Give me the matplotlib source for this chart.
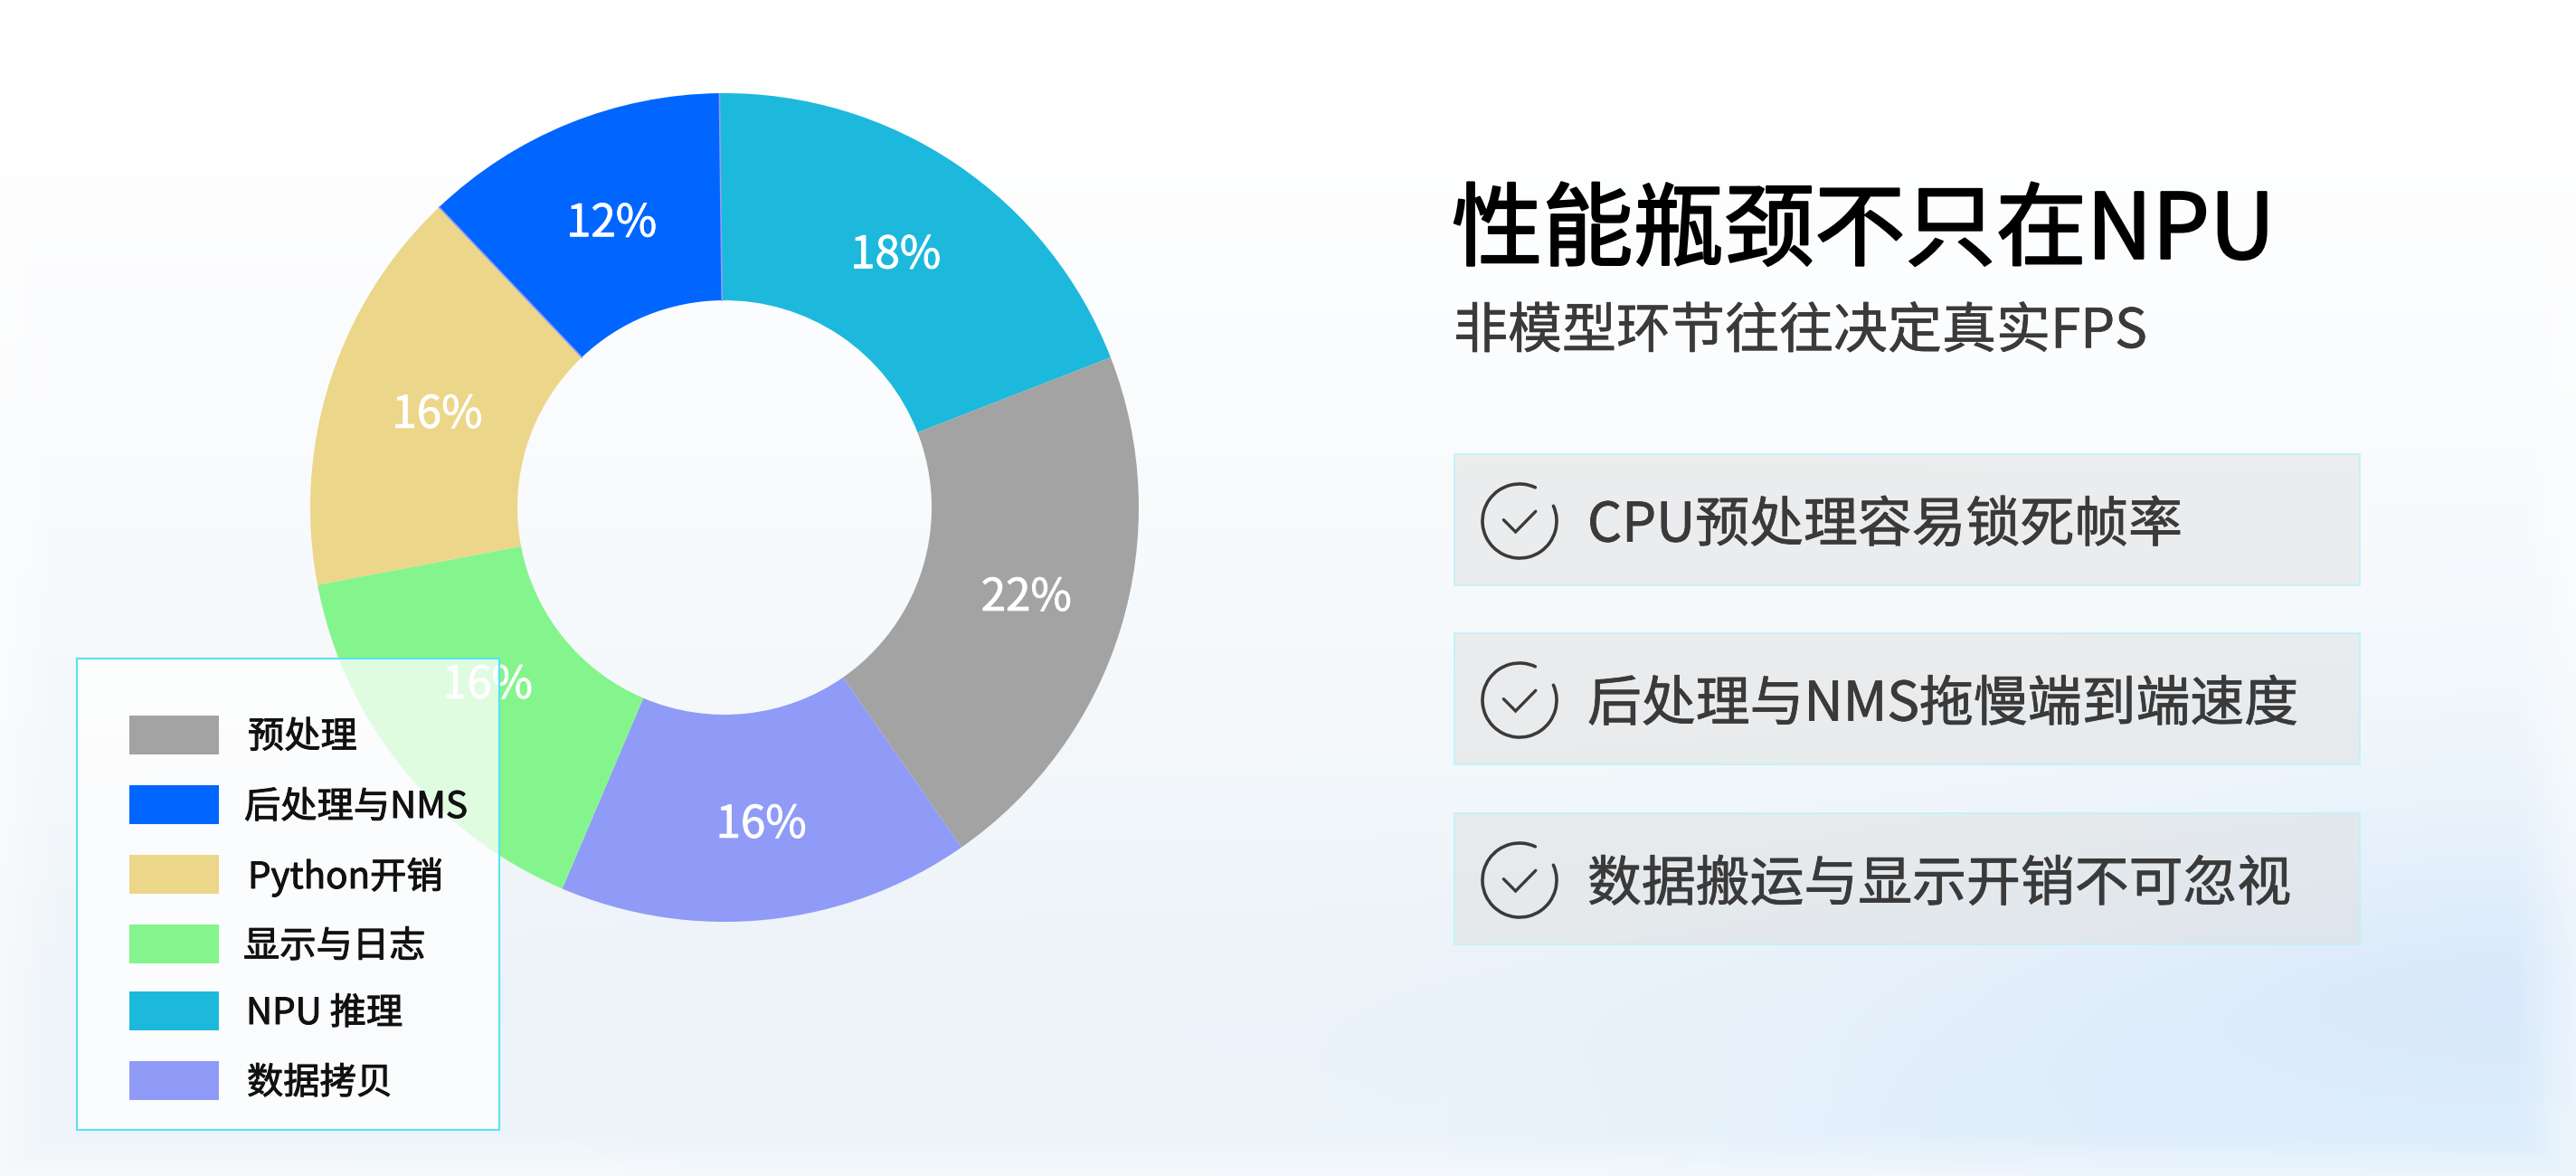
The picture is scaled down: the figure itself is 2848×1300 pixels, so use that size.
import numpy as np
import matplotlib.pyplot as plt
import matplotlib.patheffects as pe
from matplotlib.colors import to_rgb
from matplotlib.patches import Rectangle, Arc

plt.rcParams['font.family'] = ['Noto Sans CJK SC', 'DejaVu Sans']

# Pie data, clockwise from the top
categories = ['NPU 推理', '预处理', '数据拷贝', '显示与日志', 'Python开销', '后处理与NMS']
slice_sizes = [19.3, 21.2, 16.1, 15.6, 15.9, 11.9]
slice_labels = ['18%', '22%', '16%', '16%', '16%', '12%']
slice_colors = ['#1DB9DC', '#A3A3A3', '#8F9BF7', '#84F58C', '#ECD689', '#0066FF']

legend_order = ['预处理', '后处理与NMS', 'Python开销', '显示与日志', 'NPU 推理', '数据拷贝']

title_text = '性能瓶颈不只在NPU'
subtitle_text = '非模型环节往往决定真实FPS'
card_texts = ['CPU预处理容易锁死帧率', '后处理与NMS拖慢端到端速度', '数据搬运与显示开销不可忽视']

# Soft background colours, coarse grid that imshow smooths out
bg_colors = [
    ['#FFFFFF', '#FFFFFF', '#FFFFFF', '#FFFFFF', '#FFFFFF', '#FFFFFF', '#FFFFFF'],
    ['#FEFEFF', '#FEFEFF', '#FEFEFF', '#FEFEFF', '#FEFEFF', '#FEFEFF', '#FEFEFF'],
    ['#FBFCFE', '#FBFCFE', '#FBFDFE', '#FBFDFE', '#FBFDFE', '#FBFDFE', '#FBFDFE'],
    ['#F9FBFD', '#F9FBFD', '#F9FBFD', '#F9FBFD', '#F9FBFD', '#F9FBFD', '#F9FBFE'],
    ['#F7FAFC', '#F7FAFC', '#F7FAFC', '#F7FAFC', '#F7FAFC', '#F7FAFC', '#F6FAFD'],
    ['#F5F8FB', '#F4F8FB', '#F4F8FB', '#F4F8FB', '#F4F8FB', '#F3F8FB', '#F0F7FC'],
    ['#F3F7FA', '#F1F6FA', '#F1F6FA', '#F1F6FA', '#F0F6FA', '#EEF4FB', '#E6F1FB'],
    ['#EEF4F9', '#EBF2F8', '#EBF2F8', '#EBF2F8', '#E9F2F9', '#E2EEFA', '#D6E7FB'],
    ['#EFF5FA', '#EDF4FA', '#EDF4FA', '#ECF4FA', '#E8F2FB', '#DFEEFC', '#DCEDFC'],
]

W, H = 2848, 1300
fig = plt.figure(figsize=(W / 100, H / 100), dpi=100)

# Background, with a white fade along the edges
bg_ax = fig.add_axes([0, 0, 1, 1], zorder=0)
bg_rgb = np.array([[to_rgb(c) for c in row] for row in bg_colors])
bg_ax.imshow(bg_rgb, aspect='auto', interpolation='bicubic', extent=(0, W, H, 0))
xs = np.arange(W)
ys = np.arange(H)
fade_x = np.maximum(np.clip(1 - xs / 70, 0, 1), np.clip(1 - (W - xs) / 70, 0, 1))
fade_y = np.clip(1 - (H - ys) / 50, 0, 1)
fade = np.maximum.outer(fade_y, fade_x) * 0.5
fade_img = np.ones((H, W, 4))
fade_img[..., 3] = fade
bg_ax.imshow(fade_img, aspect='auto', extent=(0, W, H, 0))
bg_ax.axis('off')

# Donut
cx, cy, radius = 801, 561, 458
pie_ax = fig.add_axes([(cx - radius) / W, 1 - (cy + radius) / H, 2 * radius / W, 2 * radius / H], zorder=1)
wedges, _ = pie_ax.pie(slice_sizes, colors=slice_colors, startangle=90.7, counterclock=False, radius=1,
                       wedgeprops={'width': 0.5, 'linewidth': 0})
pie_ax.set_xlim(-1, 1)
pie_ax.set_ylim(-1, 1)

# hairlines along both edges of the blue slice
for theta in (wedges[-1].theta1, wedges[-1].theta2):
    t = np.deg2rad(theta)
    pie_ax.plot([0.5 * np.cos(t), np.cos(t)], [0.5 * np.sin(t), np.sin(t)], color='#8F9BF7', linewidth=1.2)

label_dx = [-0.004, 0.016, 0.012, 0.008, 0.016, 0.008]
label_dy = [0.004, 0.012, -0.012, 0.051, 0.008, 0.008]
for wedge, label, dx, dy in zip(wedges, slice_labels, label_dx, label_dy):
    mid = np.deg2rad((wedge.theta1 + wedge.theta2) / 2)
    pie_ax.text(0.745 * np.cos(mid) + dx, 0.745 * np.sin(mid) + dy, label, color='white', fontsize=35.5,
                ha='center', va='center_baseline',
                path_effects=[pe.withStroke(linewidth=0.6, foreground='white')])

# Everything else in pixel coordinates
ax = fig.add_axes([0, 0, 1, 1], zorder=2)
ax.set_xlim(0, W)
ax.set_ylim(H, 0)
ax.axis('off')
ax.patch.set_alpha(0)

# Legend panel
ax.add_patch(Rectangle((85, 728), 467, 521, facecolor=(1, 1, 1, 0.75), edgecolor='#55E4F2', linewidth=1.5))
legend_y = [812, 889.5, 966.5, 1043.5, 1117.5, 1194.5]
legend_text_x = [274, 270, 274, 269, 272, 273]
color_of = dict(zip(categories, slice_colors))
for name, y, tx in zip(legend_order, legend_y, legend_text_x):
    ax.add_patch(Rectangle((143, y - 21.5), 99, 43, facecolor=color_of[name], linewidth=0))
    ax.text(tx, y + 3, name, fontsize=29, color='#111111', ha='left', va='center',
            path_effects=[pe.withStroke(linewidth=0.7, foreground='#111111')])

# Heading
ax.text(1605, 257, title_text, fontsize=72.2, color='black', ha='left', va='center',
        path_effects=[pe.withStroke(linewidth=1.6, foreground='black')])
ax.text(1607, 367, subtitle_text, fontsize=43.2, color='#3A3A3A', ha='left', va='center',
        path_effects=[pe.withStroke(linewidth=0.5, foreground='#3A3A3A')])

# Cards with check icons
card_tops = [502, 700, 899]
for top, text in zip(card_tops, card_texts):
    ax.add_patch(Rectangle((1608, top), 1001, 145, facecolor='#DEDEDE', alpha=0.47, linewidth=0))
    ax.add_patch(Rectangle((1608, top), 1001, 145, fill=False, edgecolor='#BDF3F8', linewidth=1.2))
    ix, iy = 1680, top + 74
    ax.add_patch(Arc((ix, iy), 82, 82, theta1=-24, theta2=295, color='#3A3A3A', linewidth=2.6, capstyle='round'))
    ax.plot([ix - 17.6, ix - 4.4, ix + 17.8], [iy - 1.3, iy + 12, iy - 10.7], color='#3A3A3A', linewidth=2.4,
            solid_capstyle='round', solid_joinstyle='miter')
    ax.text(1755, top + 80, text, fontsize=43.1, color='#3A3A3A', ha='left', va='center',
            path_effects=[pe.withStroke(linewidth=0.6, foreground='#3A3A3A')])

plt.savefig('out.png', dpi=100)
